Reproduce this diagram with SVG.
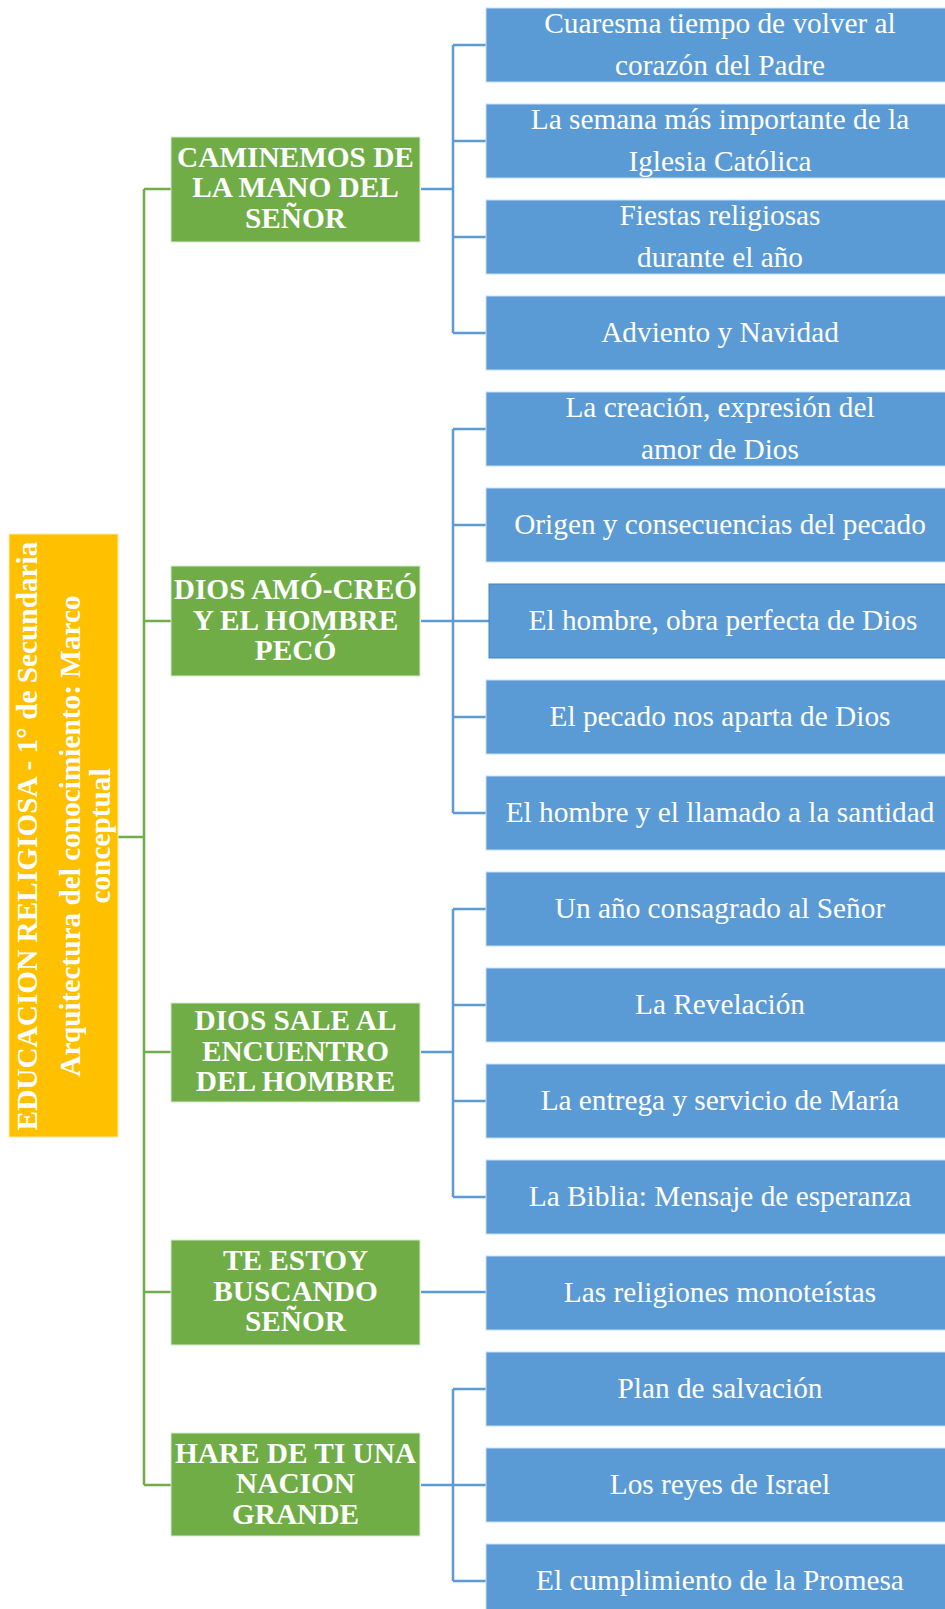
<svg xmlns="http://www.w3.org/2000/svg" width="945" height="1609" viewBox="0 0 945 1609">
<style>
.root{fill:#FFC000;stroke:#ffe9a8;stroke-width:1}
.g{fill:#70AD47;stroke:#d9ead0;stroke-width:1}
.b{fill:#5B9BD5;stroke:#c9ddf0;stroke-width:1}
.gt{font-family:"Liberation Serif","Times New Roman",serif;font-weight:bold;font-size:29.3px;fill:#ffffff;text-anchor:middle}
.bt{font-family:"Liberation Serif","Times New Roman",serif;font-size:29.3px;fill:#ffffff;text-anchor:middle}
.gl{stroke:#70AD47;stroke-width:2.5;fill:none}
.bl{stroke:#5B9BD5;stroke-width:2.5;fill:none}
</style>
<rect width="945" height="1609" fill="#ffffff"/>
<g id="connectors">
<path class="gl" d="M118 837H144M144 189V1485M144 189H171M144 621H171M144 1052H171M144 1292H171M144 1485H171"/>
<path class="bl" d="M421 189H453M453 45V333M453 45H486M453 141H486M453 237H486M453 333H486"/>
<path class="bl" d="M421 621H453M453 429V813M453 429H486M453 525H486M453 621H489M453 717H486M453 813H486"/>
<path class="bl" d="M421 1052H453M453 909V1197M453 909H486M453 1005H486M453 1101H486M453 1197H486"/>
<path class="bl" d="M421 1292H486"/>
<path class="bl" d="M421 1485H453M453 1389V1581M453 1389H486M453 1485H486M453 1581H486"/>
</g>
<g id="root">
<rect class="root" x="9" y="534" width="109" height="603"/>
<text class="gt" transform="translate(37,836) rotate(-90)">EDUCACION RELIGIOSA - 1° de Secundaria</text>
<text class="gt" transform="translate(80,836) rotate(-90)">Arquitectura del conocimiento: Marco</text>
<text class="gt" transform="translate(110,836) rotate(-90)">conceptual</text>
</g>
<g id="topic1">
<rect class="g" x="171" y="137" width="249" height="105"/>
<text class="gt" x="295.5" y="166.5">CAMINEMOS DE</text>
<text class="gt" x="295.5" y="197">LA MANO DEL</text>
<text class="gt" x="295.5" y="227.5">SEÑOR</text>
</g>
<g id="topic2">
<rect class="g" x="171" y="566" width="249" height="110"/>
<text class="gt" x="295.5" y="599">DIOS AMÓ-CREÓ</text>
<text class="gt" x="295.5" y="630">Y EL HOMBRE</text>
<text class="gt" x="295.5" y="660">PECÓ</text>
</g>
<g id="topic3">
<rect class="g" x="171" y="1003" width="249" height="99"/>
<text class="gt" x="295.5" y="1030">DIOS SALE AL</text>
<text class="gt" x="295.5" y="1060.5">ENCUENTRO</text>
<text class="gt" x="295.5" y="1091">DEL HOMBRE</text>
</g>
<g id="topic4">
<rect class="g" x="171" y="1240" width="249" height="105"/>
<text class="gt" x="295.5" y="1270">TE ESTOY</text>
<text class="gt" x="295.5" y="1300.5">BUSCANDO</text>
<text class="gt" x="295.5" y="1331">SEÑOR</text>
</g>
<g id="topic5">
<rect class="g" x="171" y="1433" width="249" height="103"/>
<text class="gt" x="295.5" y="1462.5">HARE DE TI UNA</text>
<text class="gt" x="295.5" y="1493">NACION</text>
<text class="gt" x="295.5" y="1523.5">GRANDE</text>
</g>
<g id="item1"><rect class="b" x="486" y="8" width="470" height="74"/><text class="bt" x="720" y="33">Cuaresma tiempo de volver al</text><text class="bt" x="720" y="75">corazón del Padre</text></g>
<g id="item2"><rect class="b" x="486" y="104" width="470" height="74"/><text class="bt" x="720" y="129">La semana más importante de la</text><text class="bt" x="720" y="171">Iglesia Católica</text></g>
<g id="item3"><rect class="b" x="486" y="200" width="470" height="74"/><text class="bt" x="720" y="225">Fiestas religiosas</text><text class="bt" x="720" y="267">durante el año</text></g>
<g id="item4"><rect class="b" x="486" y="296" width="470" height="74"/><text class="bt" x="720" y="342">Adviento y Navidad</text></g>
<g id="item5"><rect class="b" x="486" y="392" width="470" height="74"/><text class="bt" x="720" y="417">La creación, expresión del</text><text class="bt" x="720" y="459">amor de Dios</text></g>
<g id="item6"><rect class="b" x="486" y="488" width="470" height="74"/><text class="bt" x="720" y="534">Origen y consecuencias del pecado</text></g>
<g id="item7"><rect class="b" x="489" y="584" width="470" height="74" style="stroke:#4a82b8"/><text class="bt" x="723" y="630">El hombre, obra perfecta de Dios</text></g>
<g id="item8"><rect class="b" x="486" y="680" width="470" height="74"/><text class="bt" x="720" y="726">El pecado nos aparta de Dios</text></g>
<g id="item9"><rect class="b" x="486" y="776" width="470" height="74"/><text class="bt" x="720" y="822">El hombre y el llamado a la santidad</text></g>
<g id="item10"><rect class="b" x="486" y="872" width="470" height="74"/><text class="bt" x="720" y="918">Un año consagrado al Señor</text></g>
<g id="item11"><rect class="b" x="486" y="968" width="470" height="74"/><text class="bt" x="720" y="1014">La Revelación</text></g>
<g id="item12"><rect class="b" x="486" y="1064" width="470" height="74"/><text class="bt" x="720" y="1110">La entrega y servicio de María</text></g>
<g id="item13"><rect class="b" x="486" y="1160" width="470" height="74"/><text class="bt" x="720" y="1206">La Biblia: Mensaje de esperanza</text></g>
<g id="item14"><rect class="b" x="486" y="1256" width="470" height="74"/><text class="bt" x="720" y="1302">Las religiones monoteístas</text></g>
<g id="item15"><rect class="b" x="486" y="1352" width="470" height="74"/><text class="bt" x="720" y="1398">Plan de salvación</text></g>
<g id="item16"><rect class="b" x="486" y="1448" width="470" height="74"/><text class="bt" x="720" y="1494">Los reyes de Israel</text></g>
<g id="item17"><rect class="b" x="486" y="1544" width="470" height="74"/><text class="bt" x="720" y="1590">El cumplimiento de la Promesa</text></g>
</svg>
